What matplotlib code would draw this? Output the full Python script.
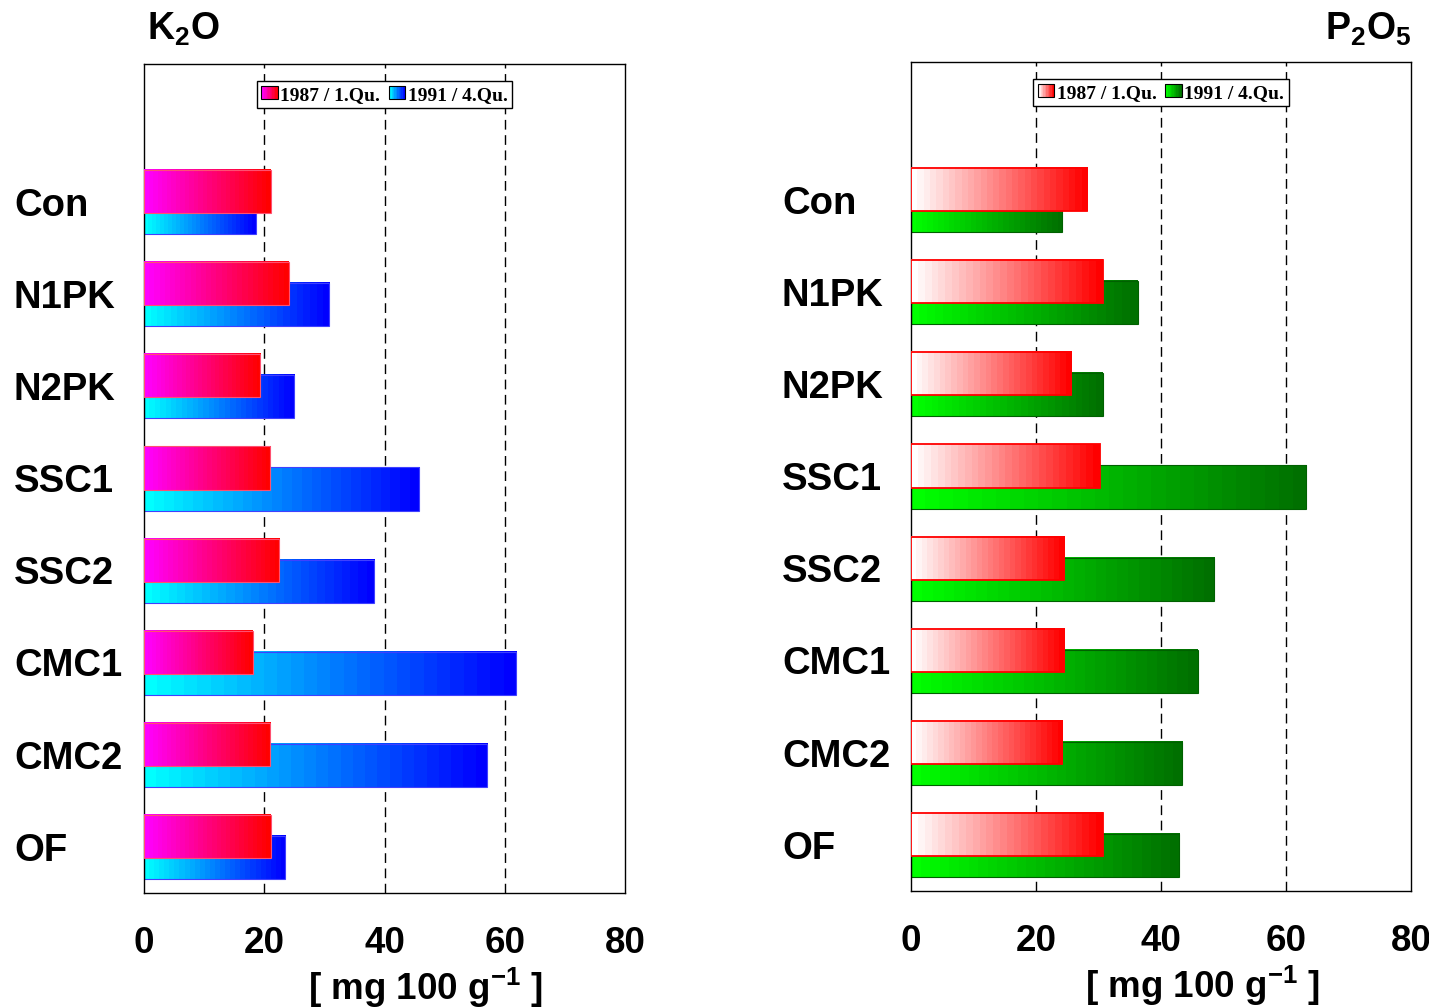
import numpy as np
import matplotlib
matplotlib.use('Agg')
import matplotlib.pyplot as plt
from matplotlib.colors import LinearSegmentedColormap
from matplotlib.patches import Rectangle
from matplotlib.legend_handler import HandlerBase
from matplotlib.transforms import blended_transform_factory


CATEGORIES = ['Con', 'N1PK', 'N2PK', 'SSC1', 'SSC2', 'CMC1', 'CMC2', 'OF']
SERIES = ['1987 / 1.Qu.', '1991 / 4.Qu.']

K2O_1987 = [21.1, 24.1, 19.3, 21.0, 22.5, 18.1, 21.0, 21.1]
K2O_1991 = [18.6, 30.8, 25.0, 45.8, 38.3, 61.9, 57.1, 23.5]
P2O5_1987 = [28.2, 30.7, 25.6, 30.2, 24.5, 24.5, 24.2, 30.7]
P2O5_1991 = [24.2, 36.3, 30.7, 63.2, 48.5, 45.9, 43.4, 42.9]

XTICKS = [0, 20, 40, 60, 80]
XLABEL = r'[ mg 100 g$^{\mathbf{-1}}$ ]'

plt.rcParams['font.family'] = 'Liberation Sans'
plt.rcParams['font.weight'] = 'bold'
plt.rcParams['mathtext.fontset'] = 'custom'
plt.rcParams['mathtext.rm'] = 'Liberation Sans'
plt.rcParams['mathtext.bf'] = 'Liberation Sans:bold'

NBANDS = 28
BAR_H = 0.467
OFFSET = 0.114


def grad_cmap(c0, c1):
    return LinearSegmentedColormap.from_list('g', [c0, c1], N=NBANDS)


class GradKey:
    def __init__(self, cmap, edge):
        self.cmap = cmap
        self.edge = edge


class GradHandler(HandlerBase):
    '''Legend key drawn as a banded colour ramp.'''
    def create_artists(self, legend, orig_handle, xdescent, ydescent,
                       width, height, fontsize, trans):
        arts = []
        n = 12
        for i in range(n):
            r = Rectangle((-xdescent + width * i / n, -ydescent), width / n + 0.3,
                          height, facecolor=orig_handle.cmap(i / (n - 1)),
                          edgecolor='none', transform=trans)
            arts.append(r)
        arts.append(Rectangle((-xdescent, -ydescent), width, height,
                              facecolor='none', edgecolor='black', lw=0.8,
                              transform=trans))
        return arts


def gradient_bar(ax, y, value, cmap, edge, z, elw=0.8):
    grad = np.linspace(0, 1, NBANDS).reshape(1, -1)
    ax.imshow(grad, cmap=cmap, aspect='auto', interpolation='nearest',
              extent=[0, value, y + BAR_H / 2, y - BAR_H / 2], zorder=z)
    ax.barh(y, value, height=BAR_H, color='none', edgecolor=edge,
            linewidth=elw, zorder=z + 0.1)


def panel(fig, rect, v87, v91, c87, c91, edges, label_x, xlab_x):
    ax = fig.add_axes(rect)
    ypos = np.arange(len(CATEGORIES))
    for i, y in enumerate(ypos):
        gradient_bar(ax, y + OFFSET, v91[i], c91, edges[1], 2, 0.8)
        gradient_bar(ax, y - OFFSET, v87[i], c87, edges[0], 3, edges[2])
    for x in XTICKS[1:-1]:
        ax.axvline(x, color='black', lw=1.0, dashes=(7, 4), zorder=1)
    ax.set_xlim(0, 80)
    ax.set_ylim(len(CATEGORIES) - 0.5, -1.5)
    ax.set_xticks(XTICKS)
    ax.set_xticklabels([str(t) for t in XTICKS], fontsize=26.5, fontweight='bold')
    ax.set_yticks([])
    ax.tick_params(axis='x', length=0, pad=24)
    for s in ax.spines.values():
        s.set_linewidth(1.0)

    tr = blended_transform_factory(fig.transFigure, ax.transData)
    for y, name in zip(ypos, CATEGORIES):
        ax.text(label_x, y + 0.04, name, transform=tr, ha='left', va='center',
                fontsize=27.5, fontweight='bold')
    ax.text(xlab_x, -0.114, XLABEL, transform=ax.transAxes, ha='center',
            va='center', fontsize=26.5, fontweight='bold')

    keys = [GradKey(c87, edges[0]), GradKey(c91, edges[1])]
    ax.legend(keys, SERIES, handler_map={GradKey: GradHandler()},
              loc='upper center', bbox_to_anchor=(0.5, 0.979), ncol=2,
              prop={'family': 'Liberation Serif', 'weight': 'bold', 'size': 14},
              handlelength=0.85, handleheight=0.65, handletextpad=0.12,
              columnspacing=0.45, borderpad=0.25, borderaxespad=0,
              fancybox=False, framealpha=1, edgecolor='black')
    ax.get_legend().get_frame().set_linewidth(1.0)
    return ax


fig = plt.figure(figsize=(14.29, 10.08), dpi=100)

k87 = grad_cmap('#ff00ff', '#ff0000')
k91 = grad_cmap('#00ffff', '#0000ff')
p87 = grad_cmap('#ffffff', '#ff0000')
p91 = grad_cmap('#00ff00', '#007000')

panel(fig, [144 / 1429, 115 / 1008, 481 / 1429, 829 / 1008],
      K2O_1987, K2O_1991, k87, k91, ('#ff5070', '#4040ff', 0.8),
      14 / 1429, 0.585)
panel(fig, [911 / 1429, 117 / 1008, 500 / 1429, 829 / 1008],
      P2O5_1987, P2O5_1991, p87, p91, ('#ff0000', '#006000', 1.3),
      782 / 1429, 0.582)

fig.text(147 / 1429, 1 - 40 / 1008, r'$\mathbf{K_2O}$', ha='left',
         va='baseline', fontsize=27)
fig.text(1411 / 1429, 1 - 40 / 1008, r'$\mathbf{P_2O_5}$', ha='right',
         va='baseline', fontsize=27)

fig.savefig('out.png', dpi=100)
